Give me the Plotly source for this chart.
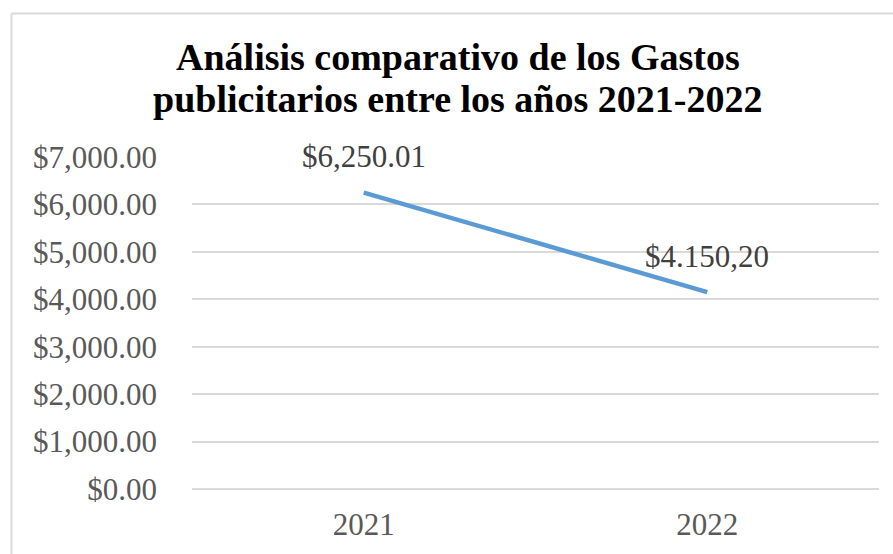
import plotly.graph_objects as go

years = ["2021", "2022"]
gastos = [6250.01, 4150.20]
label_texts = ["$6,250.01", "$4.150,20"]
y_ticks = [0, 1000, 2000, 3000, 4000, 5000, 6000, 7000]
title_lines = ["Análisis comparativo de los Gastos", "publicitarios entre los años 2021-2022"]

W, H = 893, 554
L, R, T, B = 192, 14, 157, 65
pw, ph = W - L - R, H - T - B

fig = go.Figure()
fig.add_trace(go.Scatter(
    x=years, y=gastos, mode="lines",
    line=dict(color="#5b9bd5", width=4.5),
    cliponaxis=False, showlegend=False, hoverinfo="skip",
))

def px_x(x):
    return (x - L) / pw

def px_y(y):
    return (H - B - y) / ph

annotations = [
    dict(text=title_lines[0], xref="paper", yref="paper",
         x=px_x(458), y=px_y(57), xanchor="center", yanchor="middle",
         showarrow=False,
         font=dict(family="Liberation Serif", size=38, color="black", weight="bold")),
    dict(text=title_lines[1], xref="paper", yref="paper",
         x=px_x(457), y=px_y(99), xanchor="center", yanchor="middle",
         showarrow=False,
         font=dict(family="Liberation Serif", size=38, color="black", weight="bold")),
]
for i, (val, lab) in enumerate(zip(gastos, label_texts)):
    annotations.append(dict(
        x=i, y=val, xref="x", yref="y", text=lab, showarrow=False,
        xanchor="center", yanchor="middle", yshift=36,
        font=dict(family="Liberation Serif", size=31, color="#404040"),
    ))

fig.update_layout(
    width=W, height=H,
    margin=dict(l=L, r=R, t=T, b=B, autoexpand=False),
    paper_bgcolor="white", plot_bgcolor="white",
    font=dict(family="Liberation Serif", color="#595959"),
    xaxis=dict(
        type="category", range=[-0.5, 1.5], showgrid=False, showline=False,
        zeroline=False, ticks="", tickfont=dict(size=31, color="#595959"),
        ticklabelstandoff=14,
    ),
    yaxis=dict(
        range=[0, 7000], tickvals=y_ticks, tickformat="$,.2f",
        showgrid=True, gridcolor="#d9d9d9", gridwidth=1.5,
        zeroline=True, zerolinecolor="#d9d9d9", zerolinewidth=1.5,
        showline=False, ticks="", tickfont=dict(size=31, color="#595959"),
        ticklabelstandoff=34,
    ),
    shapes=[
        dict(type="line", xref="paper", yref="paper",
             x0=px_x(11.5), x1=px_x(11.5), y0=px_y(13.5), y1=px_y(H + 10),
             line=dict(color="#d9d9d9", width=2)),
        dict(type="line", xref="paper", yref="paper",
             x0=px_x(11.5), x1=px_x(W + 10), y0=px_y(13.5), y1=px_y(13.5),
             line=dict(color="#d9d9d9", width=2)),
    ],
    annotations=annotations,
)

fig.write_html("out.html")
